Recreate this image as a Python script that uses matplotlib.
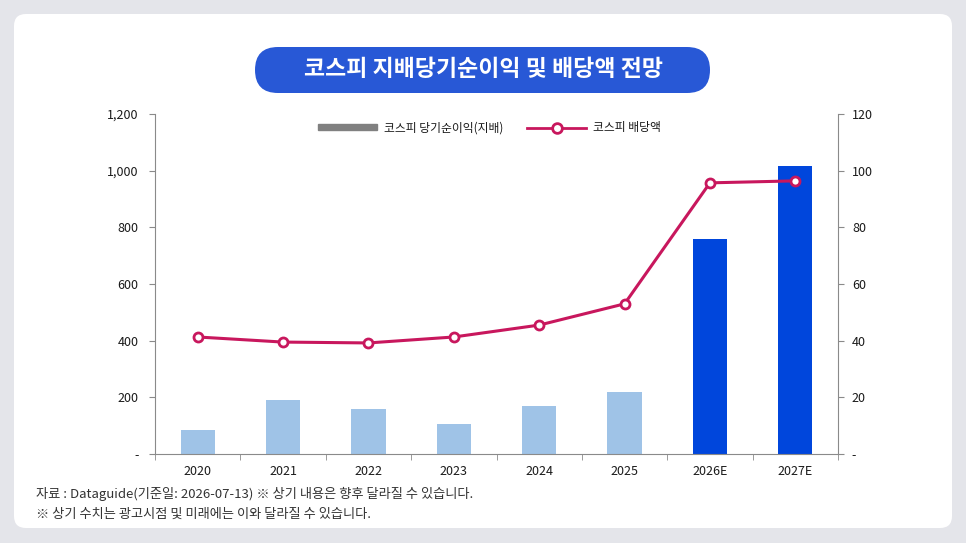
import numpy as np, matplotlib
matplotlib.use('Agg')
import matplotlib.pyplot as plt
import matplotlib.patches as mpatches
from matplotlib.lines import Line2D

plt.rcParams['font.family'] = ['Noto Sans CJK KR', 'DejaVu Sans']

years = ['2020', '2021', '2022', '2023', '2024', '2025', '2026E', '2027E']
profit = [85, 190, 159, 106, 169, 219, 759, 1017]   # 코스피 당기순이익(지배)
dividend = [41.3, 39.5, 39.2, 41.3, 45.5, 53.0, 95.7, 96.4]  # 코스피 배당액
is_estimate = [False]*6 + [True]*2

LIGHT = '#9fc3e7'; DARK = '#0046dc'; LINE = '#c8175d'; AXIS = '#8a8a8a'; TXT = '#1a1a1a'

fig = plt.figure(figsize=(9.66, 5.43), dpi=100)
fig.patch.set_facecolor('#e4e5ea')

bg = fig.add_axes([0, 0, 1, 1])
bg.set_xlim(0, 966); bg.set_ylim(543, 0); bg.axis('off')
bg.add_patch(mpatches.FancyBboxPatch((14, 14), 938, 514, boxstyle='round,pad=0,rounding_size=12',
                                     facecolor='white', edgecolor='none'))
bg.add_patch(mpatches.FancyBboxPatch((255, 47), 455, 46, boxstyle='round,pad=0,rounding_size=23',
                                     facecolor='#2858d6', edgecolor='none'))
bg.text(483, 70, '코스피 지배당기순이익 및 배당액 전망', ha='center', va='center', fontsize=16.5,
        fontweight='bold', color='white')
bg.text(36, 494, '자료 : Dataguide(기준일: 2026-07-13) ※ 상기 내용은 향후 달라질 수 있습니다.',
        ha='left', va='center', fontsize=9.5, color='#333333')
bg.text(36, 514, '※ 상기 수치는 광고시점 및 미래에는 이와 달라질 수 있습니다.',
        ha='left', va='center', fontsize=9.5, color='#333333')

ax = fig.add_axes([155/966, 1-454/543, (838-155)/966, (454-114)/543])
ax.set_facecolor('none')
x = np.arange(len(years))
ax.bar(x, profit, 0.4, color=[DARK if e else LIGHT for e in is_estimate], zorder=2)
ax.set_xlim(-0.5, len(years)-0.5); ax.set_ylim(0, 1200)
ax.set_yticks(range(0, 1201, 200))
ax.set_yticklabels(['-'] + [f'{v:,}' for v in range(200, 1201, 200)])
ax.set_xticks(x); ax.set_xticklabels(years)
ax.set_xticks(np.arange(-0.5, len(years), 1), minor=True)
ax.tick_params(axis='x', which='major', length=0, pad=8, labelsize=9, colors=TXT)
ax.tick_params(axis='x', which='minor', length=4, color=AXIS, direction='out')
ax.tick_params(axis='y', length=4, color=AXIS, labelsize=9, labelcolor=TXT, pad=8)
for s in ['top', 'right']:
    ax.spines[s].set_visible(False)
for s in ['left', 'bottom']:
    ax.spines[s].set_color(AXIS)

ax2 = ax.twinx()
ax2.plot(x, dividend, '-o', color=LINE, lw=2.2, ms=6.5, mfc='white', mec=LINE, mew=2, zorder=3)
ax2.set_ylim(0, 120)
ax2.set_yticks(range(0, 121, 20))
ax2.set_yticklabels(['-'] + [str(v) for v in range(20, 121, 20)])
ax2.tick_params(axis='y', length=4, color=AXIS, labelsize=9, labelcolor=TXT, pad=6)
for s in ['top', 'left', 'bottom']:
    ax2.spines[s].set_visible(False)
ax2.spines['right'].set_color(AXIS)

handles = [mpatches.Patch(color='#808080', label='코스피 당기순이익(지배)'),
           Line2D([0], [0], color=LINE, lw=2, marker='o', ms=7, mfc='white', mec=LINE, mew=2,
                  label='코스피 배당액')]
ax2.legend(handles=handles, loc='upper center', bbox_to_anchor=(0.49, 1.01), ncol=2, frameon=False,
           fontsize=8.5, handlelength=5, handleheight=0.45, handletextpad=0.6, columnspacing=2.0,
           labelcolor=TXT)

fig.savefig('out.png', dpi=100)
